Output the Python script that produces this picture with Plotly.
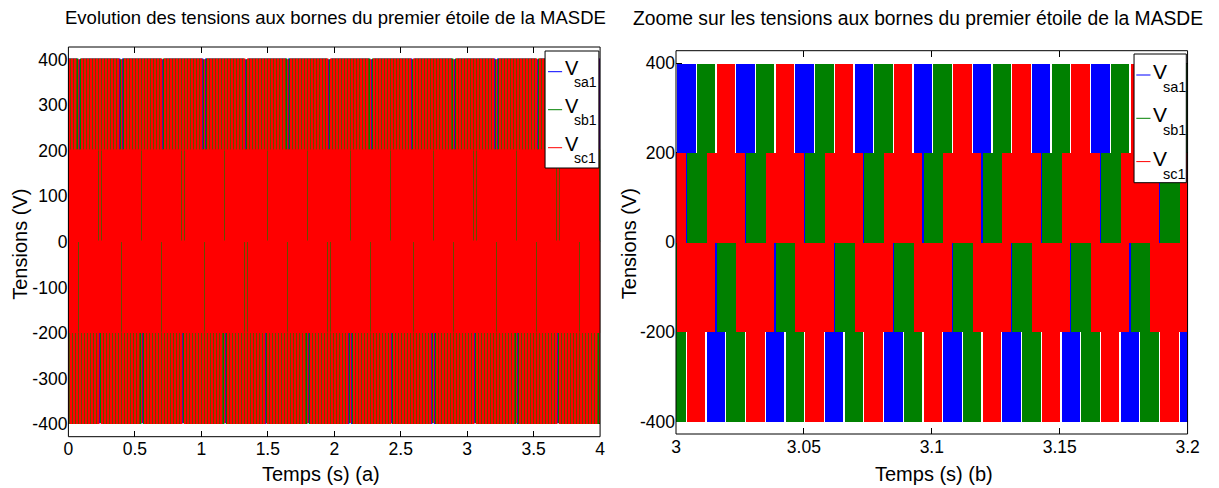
import plotly.graph_objects as go

W, H = 1219, 488

# ---- Waveform description -------------------------------------------------
# Onsets of the phase-a upper band (200..400 V) in the 3.0-3.2 s window (s)
onset_a = [3.0002, 3.0233, 3.0465, 3.0696, 3.0927, 3.1158, 3.1390, 3.1621, 3.1852]
period = (onset_a[-1] - onset_a[0]) / (len(onset_a) - 1)

# Phase lag of each phase, as a fraction of the period (a, b, c)
phase_lag = [0.0, 1 / 3, 2 / 3]

# Voltage bands swept by the PWM switching during one period
row_low = [200, 0, -200, -400]          # lower edge of each band (V)
row_from = [0.0, -1 / 6, 1 / 3, 1 / 2]  # band start, fraction of period after onset
row_to = [1 / 3, 1 / 2, 1.0, 5 / 6]     # band end, fraction of period after onset
band_step = 200                         # height of one band (V)
dead_time = 0.0005                      # switching dead time at band edges (s)

series_names = ["sa1", "sb1", "sc1"]
series_colors = ["#0000ff", "#008000", "#ff0000"]

full_range = [0, 4]
zoom_range = [3.0, 3.2]
x_ticks_full = [0, 0.5, 1, 1.5, 2, 2.5, 3, 3.5, 4]
x_ticks_zoom = [3, 3.05, 3.1, 3.15, 3.2]
y_ticks_full = [-400, -300, -200, -100, 0, 100, 200, 300, 400]
y_ticks_zoom = [-400, -200, 0, 200, 400]
y_range = [-428, 428]


def bands(lag, t0, t1):
    xs, ws, bs, ys = [], [], [], []
    k0 = int((t0 - onset_a[0]) / period) - 2
    k1 = int((t1 - onset_a[0]) / period) + 2
    for k in range(k0, k1 + 1):
        on = onset_a[0] + (k + lag) * period
        for low, f0, f1 in zip(row_low, row_from, row_to):
            a = on + f0 * period + dead_time / 2
            b = on + f1 * period - dead_time / 2
            if b < t0 or a > t1:
                continue
            xs.append((a + b) / 2)
            ws.append(b - a)
            bs.append(low)
            ys.append(band_step)
    return xs, ws, bs, ys


fig = go.Figure()

# full run drawn with a thin outline (switching traces), zoom drawn as flat bands
for (xa, ya, rng, lw) in [("x", "y", full_range, 1.4), ("x2", "y2", zoom_range, 0)]:
    for lag, col in zip(phase_lag, series_colors):
        xs, ws, bs, ys = bands(lag, rng[0], rng[1])
        fig.add_trace(go.Bar(
            x=xs, y=ys, base=bs, width=ws,
            marker=dict(color=col, line=dict(width=lw, color=col)),
            xaxis=xa, yaxis=ya, showlegend=False, hoverinfo="skip",
        ))

FONT = "Liberation Sans, Arial, Helvetica, sans-serif"


def px(x):
    return x / W


def py(y):
    return 1 - y / H


def label(v):
    return f"{v:g}".replace("\u2212", "-")


# plot frames (pixel boxes)
left_box = (64.3, 47.0, 603.5, 436.7)
right_box = (680.5, 50.7, 1199.3, 434.0)


def axis_common(vals):
    return dict(
        showgrid=False, zeroline=False, showline=False,
        ticks="inside", ticklen=6, tickwidth=1, tickcolor="#000",
        mirror="ticks", layer="below traces",
        tickvals=vals, ticktext=[label(v) for v in vals],
        tickfont=dict(family=FONT, size=17.5, color="#000"),
    )


fig.update_layout(
    width=W, height=H,
    margin=dict(l=0, r=0, t=0, b=0),
    paper_bgcolor="white", plot_bgcolor="white",
    barmode="overlay", bargap=0,
    showlegend=False,
    xaxis=dict(domain=[px(left_box[0]), px(left_box[2])], range=full_range,
               anchor="y", **axis_common(x_ticks_full)),
    yaxis=dict(domain=[py(left_box[3]), py(left_box[1])], range=y_range,
               anchor="x", **axis_common(y_ticks_full)),
    xaxis2=dict(domain=[px(right_box[0]), px(right_box[2])], range=zoom_range,
                anchor="y2", **axis_common(x_ticks_zoom)),
    yaxis2=dict(domain=[py(right_box[3]), py(right_box[1])], range=y_range,
                anchor="x2", **axis_common(y_ticks_zoom)),
)

shapes = []
annotations = []

# frames drawn over the data
for xa, ya in [("x", "y"), ("x2", "y2")]:
    shapes.append(dict(type="rect", xref=f"{xa} domain", yref=f"{ya} domain",
                       x0=0, x1=1, y0=0, y1=1, layer="above",
                       line=dict(color="#000", width=1)))


def text(x, y, s, size, angle=0, xanchor="center"):
    annotations.append(dict(x=px(x), y=py(y), xref="paper", yref="paper",
                            text=s, showarrow=False, textangle=angle,
                            xanchor=xanchor, yanchor="middle",
                            font=dict(family=FONT, size=size, color="#000")))


# titles
text(335, 18, "Evolution des tensions aux bornes du premier étoile de la MASDE", 18.5)
text(926, 19, "Zoome sur les tensions aux bornes du premier étoile de la MASDE", 19.3)
# axis titles
text(15, 244, "Tensions (V)", 20, angle=-90)
text(633, 244, "Tensions (V)", 20, angle=-90)
text(320, 474, "Temps (s) (a)", 20)
text(942, 474, "Temps (s) (b)", 20)


# legends
def legend(box, line_x, y_first, dy, v_x, sub_x, v_size, sub_size, sub_dy):
    x0, y0, x1, y1 = box
    shapes.append(dict(type="rect", xref="paper", yref="paper",
                       x0=px(x0), x1=px(x1), y0=py(y1), y1=py(y0),
                       fillcolor="white", layer="above",
                       line=dict(color="#000", width=1)))
    for i, (name, col) in enumerate(zip(series_names, series_colors)):
        yl = y_first + i * dy
        shapes.append(dict(type="line", xref="paper", yref="paper",
                           x0=px(line_x[0]), x1=px(line_x[1]), y0=py(yl), y1=py(yl),
                           layer="above", line=dict(color=col, width=1)))
        text(v_x, yl - 3.5, "V", v_size, xanchor="left")
        text(sub_x, yl + sub_dy, name, sub_size, xanchor="left")


legend((547.7, 51, 602.3, 168), (550.7, 565), 71.7, 38, 565.5, 575.5, 20, 14, 10)
legend((1145, 54, 1198, 182.7), (1147.3, 1161.7), 75, 43.3, 1162, 1172.5, 21, 14.5, 12)

fig.update_layout(shapes=shapes, annotations=annotations)

fig.write_html("out.html")
